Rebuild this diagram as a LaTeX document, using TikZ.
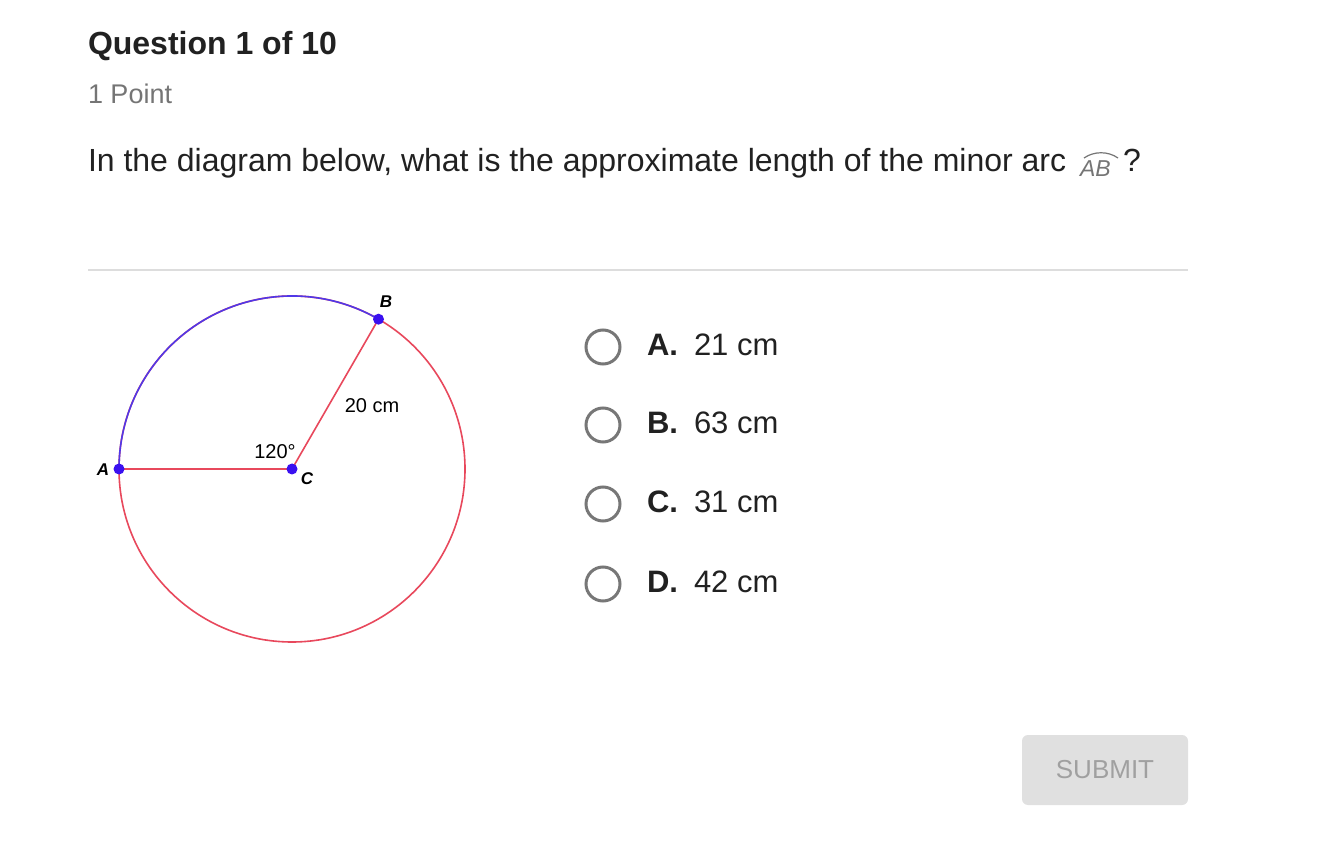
\documentclass[tikz,border=0pt]{standalone}
\usetikzlibrary{calc}
\usepackage{fontspec}
\setmainfont{Liberation Sans}
\definecolor{txt}{HTML}{212121}
\definecolor{subgray}{HTML}{757575}
\definecolor{rulegray}{HTML}{DDDDDD}
\definecolor{arcblue}{HTML}{5038E8}
\definecolor{arcred}{HTML}{E8485C}
\definecolor{ptblue}{HTML}{3A10F0}
\definecolor{radiogray}{HTML}{777777}
\definecolor{btnfill}{HTML}{E0E0E0}
\definecolor{btntext}{HTML}{A0A0A0}
\begin{document}
\begin{tikzpicture}[x=1pt,y=-1pt,
  every node/.style={inner sep=0pt,outer sep=0pt},
  radio/.style={circle,draw=radiogray,line width=3pt,minimum size=34pt},
  optlabel/.style={anchor=west,font=\fontsize{31}{31}\selectfont,text=txt},
  ptdot/.style={circle,fill=ptblue,minimum size=11pt},
  diaglabel/.style={font=\fontsize{20}{20}\selectfont,text=black},
  ptlabel/.style={font=\fontsize{17}{17}\selectfont\bfseries\itshape,text=black}]
\useasboundingbox (0,0) rectangle (1318,858);
\fill[white] (0,0) rectangle (1318,858);
% header
\node[anchor=base west,font=\fontsize{32}{32}\selectfont\bfseries,text=txt] (title) at (88,55) {Question 1 of 10};
\node[anchor=base west,font=\fontsize{27}{27}\selectfont,text=subgray] (points) at (88,104) {1 Point};
\node[anchor=base west,font=\fontsize{32}{32}\selectfont,text=txt] (question) at (88,172) {In the diagram below, what is the approximate length of the minor arc};
\node[anchor=base west,font=\fontsize{23}{23}\selectfont\itshape,text=subgray] (ab) at (1080,177) {AB};
\draw[subgray,line width=1.2pt] (1084,158) .. controls (1094,151) and (1108,151) .. (1118,158);
\node[anchor=base west,font=\fontsize{32}{32}\selectfont,text=txt] (qmark) at (1123,172) {?};
\draw[rulegray,line width=1.5pt] (88,270) -- (1188,270);
% diagram
\coordinate (C) at (292,469);
\coordinate (A) at (119,469);
\coordinate (B) at ($(C)+(-60:173)$);
\draw[arcred,line width=1.6pt] (C) circle[radius=173];
\draw[arcblue,line width=1.6pt] (B) arc[start angle=-60,end angle=-180,radius=173];
\draw[arcred,line width=1.6pt] (A) -- (C) -- (B);
\node[ptdot] (Cd) at (C) {};
\node[ptdot] (Ad) at (A) {};
\node[ptdot] (Bd) at (B) {};
\node[ptlabel] (Alab) at (103,470) {A};
\node[ptlabel] (Blab) at (386,302) {B};
\node[ptlabel] (Clab) at (307,479) {C};
\node[diaglabel] (ang) at (275,452) {120°};
\node[diaglabel] (len) at (372,406) {20 cm};
% options
\foreach \y/\l/\v [count=\i] in {347/A/21, 425/B/63, 504/C/31, 584/D/42}{
  \node[radio] (r\i) at (603,\y) {};
  \node[optlabel,font=\fontsize{31}{31}\selectfont\bfseries] (l\i) at (647,\y-2) {\l.};
  \node[optlabel] (v\i) at (694,\y-2) {\v{} cm};
}
% submit
\node[draw=none,fill=btnfill,rounded corners=6pt,minimum width=166pt,minimum height=70pt,font=\fontsize{26}{26}\selectfont,text=btntext] (submit) at (1105,770) {SUBMIT};
\end{tikzpicture}
\end{document}
